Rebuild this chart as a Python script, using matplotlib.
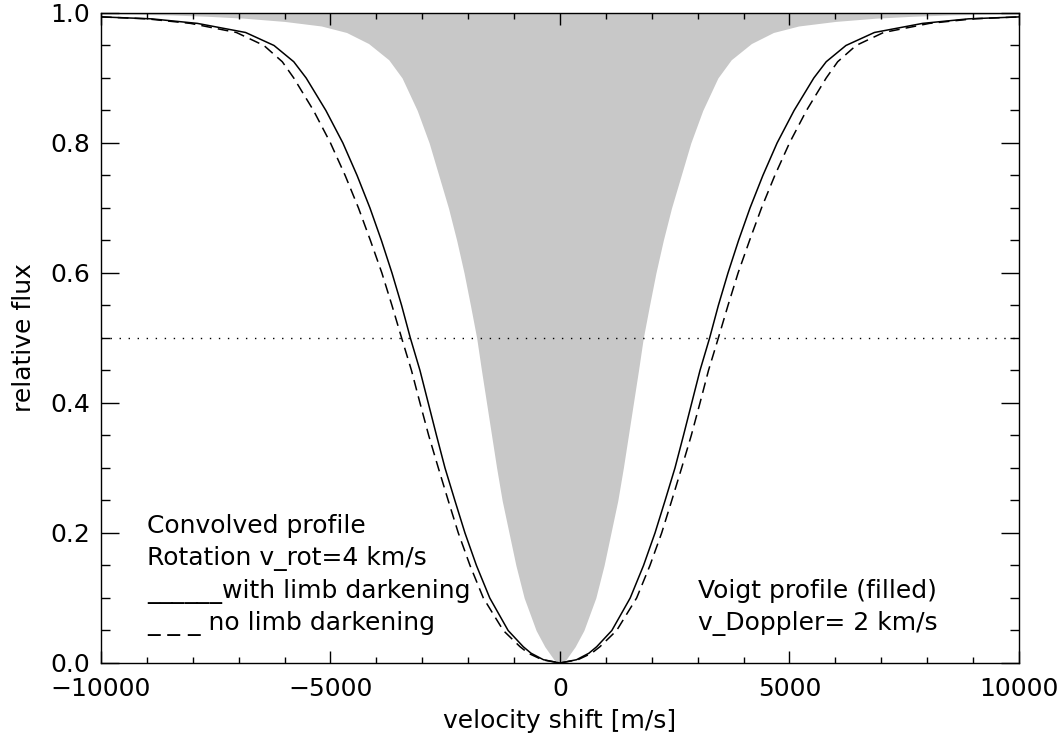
import numpy as np
import matplotlib
matplotlib.use("Agg")
import matplotlib.pyplot as plt
from matplotlib.ticker import MultipleLocator

plt.rcParams['font.family'] = ['DejaVu Sans']
plt.rcParams['font.size'] = 18

# Voigt profile (filled)
voigt_flux = [0.999, 0.997, 0.995, 0.992, 0.987, 0.98, 0.97, 0.953, 0.928, 0.90,
              0.85, 0.80, 0.75, 0.70, 0.65, 0.60, 0.55, 0.50, 0.45, 0.40,
              0.35, 0.30, 0.25, 0.20, 0.15, 0.10, 0.05, 0.025, 0.005, 0.0,
              0.005, 0.025, 0.05, 0.10, 0.15, 0.20, 0.25, 0.30, 0.35, 0.40,
              0.45, 0.50, 0.55, 0.60, 0.65, 0.70, 0.75, 0.80, 0.85, 0.90,
              0.928, 0.953, 0.97, 0.98, 0.987, 0.992, 0.995, 0.997, 0.999]
voigt_vel = [-10000, -8500, -7700, -6880, -6000, -5200, -4650, -4170, -3730, -3440,
             -3110, -2850, -2640, -2430, -2250, -2090, -1950, -1815, -1710, -1600,
             -1490, -1380, -1260, -1110, -960, -780, -520, -330, -130, 0,
             130, 330, 520, 780, 960, 1110, 1260, 1380, 1490, 1600,
             1710, 1815, 1950, 2090, 2250, 2430, 2640, 2850, 3110, 3440,
             3730, 4170, 4650, 5200, 6000, 6880, 7700, 8500, 10000]

# convolved profiles, flux levels shared by both curves
conv_flux = [0.994, 0.991, 0.984, 0.97, 0.95, 0.925, 0.90, 0.85, 0.80, 0.75,
             0.70, 0.65, 0.60, 0.55, 0.50, 0.45, 0.40, 0.35, 0.30, 0.25,
             0.20, 0.15, 0.10, 0.05, 0.025, 0.015, 0.005, 0.0,
             0.005, 0.015, 0.025, 0.05, 0.10, 0.15, 0.20, 0.25, 0.30, 0.35,
             0.40, 0.45, 0.50, 0.55, 0.60, 0.65, 0.70, 0.75, 0.80, 0.85,
             0.90, 0.925, 0.95, 0.97, 0.984, 0.991, 0.994]
limb_vel = [-10000, -8900, -7900, -6850, -6230, -5800, -5530, -5100, -4730, -4420,
            -4140, -3890, -3660, -3450, -3260, -3050, -2870, -2690, -2505, -2290,
            -2070, -1820, -1530, -1130, -800, -630, -360, 0,
            360, 630, 800, 1130, 1530, 1820, 2070, 2290, 2505, 2690,
            2870, 3050, 3260, 3450, 3660, 3890, 4140, 4420, 4730, 5100,
            5530, 5800, 6230, 6850, 7900, 8900, 10000]
nolimb_vel = [-10000, -9000, -8050, -7050, -6450, -6050, -5800, -5370, -5000, -4680,
              -4390, -4130, -3880, -3660, -3450, -3235, -3050, -2860, -2650, -2435,
              -2215, -1960, -1670, -1235, -870, -690, -390, 0,
              390, 690, 870, 1235, 1670, 1960, 2215, 2435, 2650, 2860,
              3050, 3235, 3450, 3660, 3880, 4130, 4390, 4680, 5000, 5370,
              5800, 6050, 6450, 7050, 8050, 9000, 10000]

fig = plt.figure(figsize=(10.64, 7.42), dpi=100)
ax = fig.add_axes([0.0949, 0.1065, 0.8628, 0.876])

ax.fill_between(voigt_vel, voigt_flux, 1.0, color='#c8c8c8', linewidth=0)
ax.plot(limb_vel, conv_flux, color='black', lw=1.1)
ax.plot(nolimb_vel, conv_flux, color='black', lw=1.1, dashes=(7, 4))
ax.axhline(0.5, color='black', lw=1.0, dashes=(1, 5.5))

ax.set_xlim(-10000, 10000)
ax.set_ylim(0, 1.0)
ax.xaxis.set_major_locator(MultipleLocator(5000))
ax.xaxis.set_minor_locator(MultipleLocator(1000))
ax.yaxis.set_major_locator(MultipleLocator(0.2))
ax.yaxis.set_minor_locator(MultipleLocator(0.05))
ax.yaxis.set_major_formatter(lambda y, pos: f"{y:.1f}")
ax.tick_params(axis='both', which='both', direction='in', top=True, right=True,
               color='black', width=1.0)
ax.tick_params(axis='x', which='major', length=8.6, pad=10)
ax.tick_params(axis='x', which='minor', length=4.3)
ax.tick_params(axis='y', which='major', length=13, pad=8)
ax.tick_params(axis='y', which='minor', length=6.5)
for s in ax.spines.values():
    s.set_linewidth(1.0)

ax.set_xlabel("velocity shift [m/s]", labelpad=6)
ax.set_ylabel("relative flux", labelpad=10)

ax.text(-9000, 0.2, "Convolved profile", va='baseline')
ax.text(-9000, 0.15, "Rotation v_rot=4 km/s", va='baseline')
ax.text(-9000, 0.1, "______with limb darkening", va='baseline')
ax.text(-9000, 0.05, "_ _ _ no limb darkening", va='baseline')
ax.text(3000, 0.1, "Voigt profile (filled)", va='baseline')
ax.text(3000, 0.05, "v_Doppler= 2 km/s", va='baseline')

fig.savefig("out.png", dpi=100)
